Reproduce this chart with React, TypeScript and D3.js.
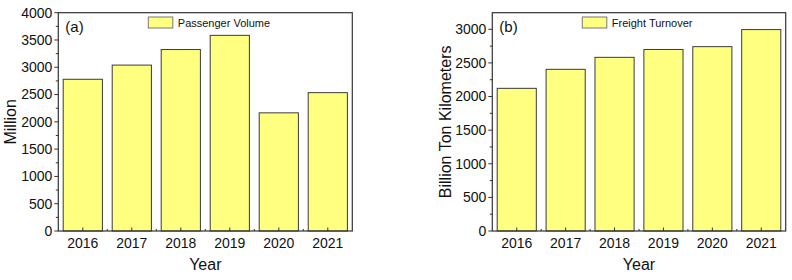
import React from "react";
import * as d3 from "d3";

const years = ["2016", "2017", "2018", "2019", "2020", "2021"];
const passengerVolume = [2780, 3040, 3325, 3585, 2165, 2535];
const freightTurnover = [2122, 2405, 2583, 2700, 2742, 2996];
const ticksA = [0, 500, 1000, 1500, 2000, 2500, 3000, 3500, 4000];
const ticksB = [0, 500, 1000, 1500, 2000, 2500, 3000];

const FONT = "Arial, 'Liberation Sans', sans-serif";
const FILL = "#ffff80";
const STROKE = "#3a3a3a";

type PanelProps = {
  left: number;
  right: number;
  top: number;
  bottom: number;
  values: number[];
  yMax: number;
  ticks: number[];
  minorStep: number;
  tag: string;
  legend: string;
  legendX: number;
  yLabel: string;
  yLabelX: number;
};

function Panel(p: PanelProps) {
  const x = d3.scaleBand<string>().domain(years).range([p.left, p.right]).paddingInner(0.2).paddingOuter(0.1);
  const y = d3.scaleLinear().domain([0, p.yMax]).range([p.bottom, p.top]);
  const step = x.step();
  const minors = d3.range(p.minorStep, p.yMax, p.minorStep * 2).filter((v) => v < p.yMax);
  return (
    <g fontFamily={FONT}>
      {years.map((yr, i) => (
        <rect
          key={yr}
          x={x(yr)!}
          y={y(p.values[i])}
          width={x.bandwidth()}
          height={p.bottom - y(p.values[i])}
          fill={FILL}
          stroke={STROKE}
          strokeWidth={1}
        />
      ))}
      <rect x={p.left} y={p.top} width={p.right - p.left} height={p.bottom - p.top} fill="none" stroke="#333" strokeWidth={1.2} />
      {p.ticks.map((t) => (
        <g key={t}>
          <line x1={p.left - 4} x2={p.left} y1={y(t)} y2={y(t)} stroke="#333" />
          <text x={p.left - 6} y={y(t)} dy="0.35em" textAnchor="end" fontSize={14} fill="#111">
            {t}
          </text>
        </g>
      ))}
      {minors.map((t) => (
        <line key={"m" + t} x1={p.left - 2.5} x2={p.left} y1={y(t)} y2={y(t)} stroke="#333" />
      ))}
      {years.map((yr) => {
        const cx = x(yr)! + x.bandwidth() / 2;
        return (
          <g key={"x" + yr}>
            <line x1={cx} x2={cx} y1={p.bottom} y2={p.bottom - 3.5} stroke="#333" />
            <text x={cx} y={p.bottom + 17} textAnchor="middle" fontSize={14} fill="#111">
              {yr}
            </text>
          </g>
        );
      })}
      {d3.range(1, years.length).map((i) => (
        <line key={"xm" + i} x1={p.left + i * step} x2={p.left + i * step} y1={p.bottom} y2={p.bottom - 2} stroke="#333" />
      ))}
      <text x={(p.left + p.right) / 2} y={270} textAnchor="middle" fontSize={16} fill="#111">
        Year
      </text>
      <text
        transform={`translate(${p.yLabelX},${(p.top + p.bottom) / 2}) rotate(-90)`}
        textAnchor="middle"
        fontSize={16}
        fill="#111"
      >
        {p.yLabel}
      </text>
      <text x={p.left + 7} y={32} fontSize={15} fill="#111">
        {p.tag}
      </text>
      <rect x={p.legendX} y={17} width={24.5} height={11} fill={FILL} stroke="#777" strokeWidth={1} />
      <text x={p.legendX + 29.5} y={26.8} fontSize={11} fill="#111">
        {p.legend}
      </text>
    </g>
  );
}

export default function App() {
  return (
    <svg width={792} height={280} style={{ display: "block", position: "absolute", left: 0, top: 0 }}>
      <rect width={792} height={280} fill="#fff" />
      <Panel
        left={58.3}
        right={352.3}
        top={12.7}
        bottom={231}
        values={passengerVolume}
        yMax={4000}
        ticks={ticksA}
        minorStep={250}
        tag="(a)"
        legend="Passenger Volume"
        legendX={148.3}
        yLabel="Million"
        yLabelX={16}
      />
      <Panel
        left={492.3}
        right={785.7}
        top={12.7}
        bottom={231}
        values={freightTurnover}
        yMax={3247}
        ticks={ticksB}
        minorStep={250}
        tag="(b)"
        legend="Freight Turnover"
        legendX={582.3}
        yLabel="Billion Ton Kilometers"
        yLabelX={451}
      />
    </svg>
  );
}
